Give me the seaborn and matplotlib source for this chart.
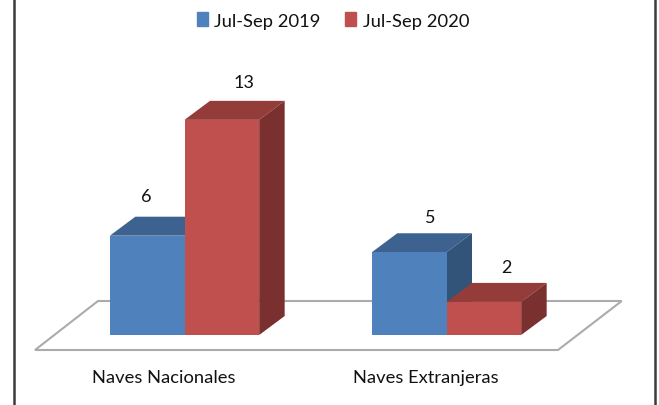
"""  3D-looking grouped bars: Naves Nacionales / Extranjeras  """
import matplotlib
matplotlib.use('Agg')
import matplotlib.pyplot as plt
from matplotlib.lines import Line2D
from matplotlib.patches import Polygon, Rectangle
import pandas as pd
import seaborn as sns

categories = ['Naves Nacionales', 'Naves Extranjeras']
periods = ['Jul-Sep 2019', 'Jul-Sep 2020']
values_2019 = [6, 5]
values_2020 = [13, 2]

W, H = 659, 406
DX, DY = 25.5, 19  # depth of the bars, in pixels
front_colors = {'Jul-Sep 2019': '#4F81BD', 'Jul-Sep 2020': '#C0504D'}
top_colors = {'Jul-Sep 2019': '#3D6290', 'Jul-Sep 2020': '#943C39'}
side_colors = {'Jul-Sep 2019': '#335479', 'Jul-Sep 2020': '#7A302E'}
label_offsets = [(-1, 40), (21, 35), (22, 38), (23, 35)]  # px from top centre of each bar

df = pd.DataFrame({
    'category': categories * 2,
    'period': [periods[0]] * 2 + [periods[1]] * 2,
    'value': values_2019 + values_2020,
})

sns.set_style('white')
plt.rcParams['font.family'] = ['Lato', 'DejaVu Sans']
fig = plt.figure(figsize=(W / 100, H / 100), dpi=100)

# axes in pixel terms: baseline at y=336, 16.55 px per unit, 262 px per category
ax = fig.add_axes([53.5 / W, (H - 336) / H, 524 / W, 248.25 / H])
sns.barplot(data=df, x='category', y='value', hue='period', hue_order=periods,
            palette=front_colors, saturation=1, width=0.57, gap=0, dodge=True,
            legend=False, ax=ax, zorder=5, linewidth=0, edgecolor='none')
ax.set_xlim(-0.5, 1.5)
ax.set_ylim(0, 15)
ax.axis('off')


def to_px(x, y):
    px, py = ax.transData.transform((x, y))
    return px, py


def px_poly(points, **kw):
    # polygon in display pixels
    return Polygon(points, closed=True, transform=None, clip_on=False, **kw)


# floor, behind everything
x0 = to_px(-0.5, 0)[0]
base = to_px(0, 0)[1]
floor = [(x0 - 18.5, base - 15), (x0 + 504.5, base - 15),
         (x0 + 568.2, base + 34), (x0 + 44.5, base + 34)]
fig.add_artist(Polygon(floor, closed=True, transform=None, facecolor='white',
                       edgecolor='#ABABAB', linewidth=1.5, zorder=0))

# depth faces, built from the seaborn bars; blue first so red overlaps it
bars = [p for p in ax.patches if p.get_height() > 0]
bar_periods = [periods[0]] * 2 + [periods[1]] * 2
for bar, period, offset in zip(bars, bar_periods, label_offsets):
    xa, ya = to_px(bar.get_x(), bar.get_height())
    xb, yb = to_px(bar.get_x() + bar.get_width(), 0)
    z = bar.get_zorder() if period == periods[1] else 4
    ax.add_patch(px_poly([(xa, ya), (xb, ya), (xb + DX, ya + DY), (xa + DX, ya + DY)],
                         facecolor=top_colors[period], edgecolor='none', zorder=z - 1))
    ax.add_patch(px_poly([(xb, ya), (xb + DX, ya + DY), (xb + DX, yb + DY), (xb, yb)],
                         facecolor=side_colors[period], edgecolor='none', zorder=z - 1))
    ax.annotate(f'{bar.get_height():.0f}', (bar.get_x() + bar.get_width() / 2, bar.get_height()),
                xytext=offset, textcoords='offset pixels',
                ha='center', va='center', fontsize=13, color='#111111', zorder=8)

# category labels
for i, name in enumerate(categories):
    ax.annotate(name, (i, 0), xytext=(-20.5, -42), textcoords='offset pixels',
                ha='center', va='center', fontsize=13.2, color='#111111')

# legend, hand placed like the original
handles = [Rectangle((0, 0), 1, 1, color=front_colors[p]) for p in periods]
fig.legend(handles, periods, loc='center', bbox_to_anchor=(333 / W, (H - 21.5) / H), ncol=2,
           frameon=False, fontsize=13.2, handlelength=0.61, handleheight=0.8,
           handletextpad=0.35, columnspacing=1.35, labelcolor='#111111')

# the two side rules of the chart frame
for x in (13.5, 654.5):
    fig.add_artist(Line2D([x / W, x / W], [0, 1], transform=fig.transFigure,
                          color='#3C3C3C', linewidth=1.8))

fig.savefig('out.png', dpi=100)
